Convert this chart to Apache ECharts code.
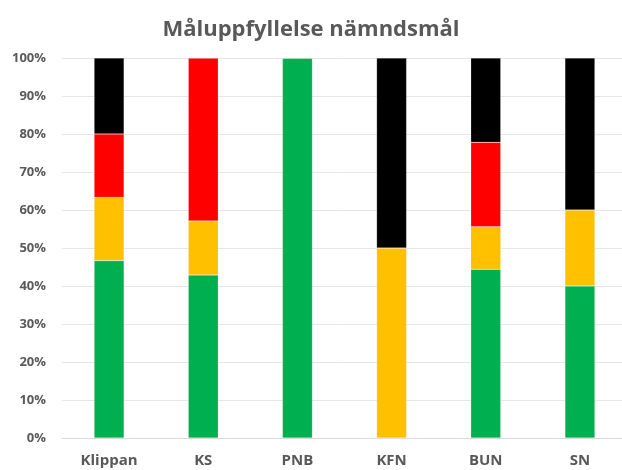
<!DOCTYPE html>
<html>
<head>
<meta charset="utf-8">
<script src="https://cdn.jsdelivr.net/npm/echarts@6/dist/echarts.min.js"></script>
<style>html,body{margin:0;padding:0;background:#fff}#c{width:622px;height:470px}</style>
</head>
<body>
<div id="c"></div>
<script>
const categories = ['Klippan', 'KS', 'PNB', 'KFN', 'BUN', 'SN'];
const greenVals = [46.7, 42.9, 100, 0, 44.4, 40];
const yellowVals = [16.6, 14.2, 0, 50, 11.2, 20];
const redVals = [16.7, 42.9, 0, 0, 22.2, 0];
const blackVals = [20, 0, 0, 50, 22.2, 40];
const yTicks = [0, 10, 20, 30, 40, 50, 60, 70, 80, 90, 100];

const font = '"Open Sans", "Liberation Sans", sans-serif';
const chart = echarts.init(document.getElementById('c'));
function s(name, data, color) {
  return {
    name, type: 'bar', stack: 't', data, barWidth: 30,
    itemStyle: { color, borderColor: 'rgba(255,255,255,0.4)', borderWidth: 0.5 },
    emphasis: { disabled: true }
  };
}
chart.setOption({
  animation: false,
  title: {
    text: 'Måluppfyllelse nämndsmål', left: 'center', top: 14,
    textStyle: { fontFamily: font, fontSize: 22, fontWeight: 'bold', color: '#595959' }
  },
  grid: { left: 62, top: 58, width: 565, height: 380, containLabel: false, outerBoundsMode: 'none' },
  xAxis: {
    type: 'category', data: categories,
    axisLine: { lineStyle: { color: '#d9d9d9' } },
    axisTick: { show: false },
    axisLabel: { fontFamily: font, fontSize: 15, fontWeight: 'bold', color: '#595959', margin: 15 }
  },
  yAxis: {
    type: 'value', min: yTicks[0], max: yTicks[yTicks.length - 1], interval: 10,
    axisLine: { show: false }, axisTick: { show: false },
    splitLine: { lineStyle: { color: '#e6e6e6' } },
    axisLabel: { formatter: '{value}%', fontFamily: font, fontSize: 13, fontWeight: 'bold', color: '#595959', margin: 16 }
  },
  series: [
    s('Grön', greenVals, '#00B050'),
    s('Gul', yellowVals, '#FFC000'),
    s('Röd', redVals, '#FF0000'),
    s('Svart', blackVals, '#000000')
  ]
});
</script>
</body>
</html>
